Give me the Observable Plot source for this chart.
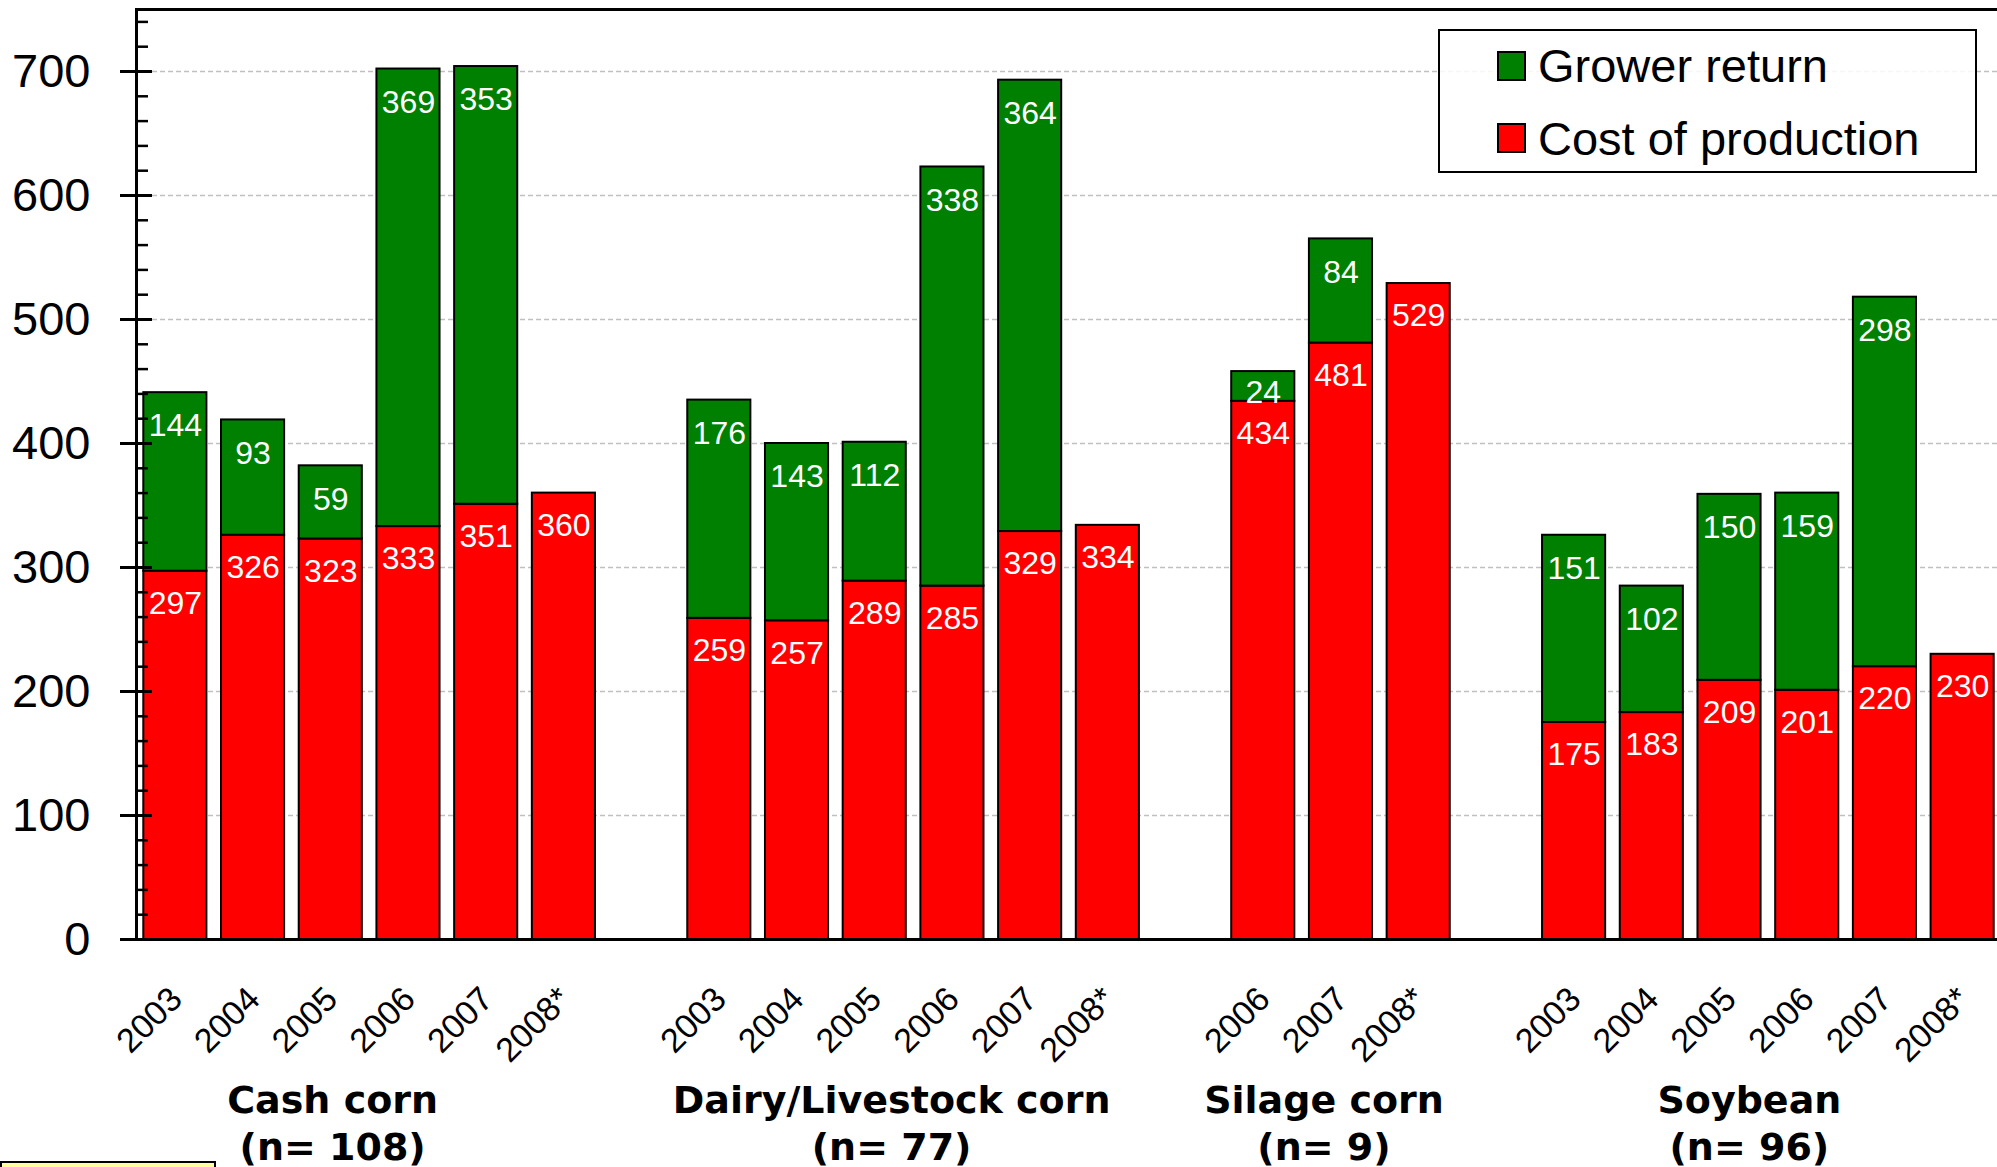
<!DOCTYPE html>
<html><head><meta charset="utf-8">
<script src="https://cdn.jsdelivr.net/npm/d3@7"></script>
<script src="https://cdn.jsdelivr.net/npm/@observablehq/plot@0.6"></script>
<style>
html,body{margin:0;padding:0;background:#fff;overflow:hidden}
#wrap{position:relative;width:1997px;height:1167px;overflow:hidden}
#legend{position:absolute;left:1438px;top:29px}
#note{position:absolute;left:0;top:1161px;width:212px;height:20px;background:#ffffa0;border:2px solid #000}
</style></head><body>
<div id="wrap"><div id="note"></div></div>
<script>
// ---- data ----
const groupNames = ["Cash corn", "Dairy/Livestock corn", "Silage corn", "Soybean"];
const groupN = [108, 77, 9, 96];

const cashYears = ["2003", "2004", "2005", "2006", "2007", "2008*"];
const cashCost = [297, 326, 323, 333, 351, 360];
const cashReturn = [144, 93, 59, 369, 353, null];

const dairyYears = ["2003", "2004", "2005", "2006", "2007", "2008*"];
const dairyCost = [259, 257, 289, 285, 329, 334];
const dairyReturn = [176, 143, 112, 338, 364, null];

const silageYears = ["2006", "2007", "2008*"];
const silageCost = [434, 481, 529];
const silageReturn = [24, 84, null];

const soyYears = ["2003", "2004", "2005", "2006", "2007", "2008*"];
const soyCost = [175, 183, 209, 201, 220, 230];
const soyReturn = [151, 102, 150, 159, 298, null];

const yTicks = [0, 100, 200, 300, 400, 500, 600, 700];
const seriesNames = ["Grower return", "Cost of production"];

// ---- layout / style ----
const W = 1997, H = 1167;
const mLeft = 136, mTop = 9, mBottom = 228, mRight = -4;
const yMax = 750;
const RED = "#ff0000", GREEN = "#008000";
const groupNudge = [-37, -22, -17, -19];

// ---- build table ----
const groupSrc = [
  [cashYears, cashCost, cashReturn],
  [dairyYears, dairyCost, dairyReturn],
  [silageYears, silageCost, silageReturn],
  [soyYears, soyCost, soyReturn]
];
const rows = [];
const domain = [];
groupSrc.forEach(([years, cost, ret], gi) => {
  years.forEach((yr, i) => {
    const key = gi + "|" + yr;
    domain.push(key);
    rows.push({group: groupNames[gi], gi, year: yr, key, cost: cost[i], ret: ret[i],
               total: ret[i] == null ? cost[i] : cost[i] + ret[i]});
  });
  if (gi < groupSrc.length - 1) domain.push("gap" + gi);
});
const retRows = rows.filter(d => d.ret != null);
const pxPerUnit = (H - mBottom - mTop) / yMax;
const retBig = retRows.filter(d => d.ret * pxPerUnit >= 45);
const retSmall = retRows.filter(d => d.ret * pxPerUnit < 45);
const step = (W - mLeft - mRight) / domain.length;

const minorTicks = d3.range(0, yMax + 1, 20);

const groupMarks = groupSrc.map(([years], gi) =>
  Plot.text([{key: gi + "|" + years[0], label: groupNames[gi] + "\n(n= " + groupN[gi] + ")"}], {
    x: "key", y: () => 0, text: "label",
    dx: (years.length - 1) / 2 * step + groupNudge[gi],
    dy: 140, lineAnchor: "top", lineHeight: 1.24,
    fontFamily: "DejaVu Sans", fontWeight: "bold", fontSize: 38, fill: "black"
  })
);

const chart = Plot.plot({
  width: W, height: H,
  marginLeft: mLeft, marginRight: mRight, marginTop: mTop, marginBottom: mBottom,
  style: {fontFamily: "Liberation Sans", background: "white", color: "black", overflow: "hidden"},
  x: {type: "band", domain, paddingInner: 0.188, paddingOuter: 0.094, round: false, axis: null},
  y: {domain: [0, yMax], label: null, axis: null},
  marks: [
    Plot.ruleY(yTicks.filter(v => v > 0), {stroke: "#c0c0c0", strokeWidth: 1.5, strokeDasharray: "5,3", insetLeft: 16}),
    Plot.barY(rows, {x: "key", y1: () => 0, y2: "cost", fill: RED, stroke: "black", strokeWidth: 2}),
    Plot.barY(retRows, {x: "key", y1: "cost", y2: "total", fill: GREEN, stroke: "black", strokeWidth: 2}),
    Plot.text(rows, {x: "key", y: "cost", text: d => String(d.cost), fill: "white", fontSize: 32, lineAnchor: "top", dy: 20}),
    Plot.text(retBig, {x: "key", y: "total", text: d => String(d.ret), fill: "white", fontSize: 32, lineAnchor: "top", dy: 21}),
    Plot.text(retSmall, {x: "key", y: "total", text: d => String(d.ret), fill: "white", fontSize: 32, lineAnchor: "top", dy: 9}),
    Plot.frame({stroke: "black", strokeWidth: 3}),
    Plot.axisY({ticks: minorTicks, tickSize: 12, dx: 12, tickFormat: () => "", stroke: "black", strokeWidth: 2.5, label: null}),
    Plot.axisY({ticks: yTicks, tickSize: 32, dx: 16, tickFormat: () => "", stroke: "black", strokeWidth: 3, label: null}),
    Plot.axisY({ticks: yTicks, tickSize: 0, tickPadding: 46, fontSize: 47, fill: "black", label: null}),
    Plot.text(rows, {x: "key", y: () => 0, text: "year", rotate: -45, textAnchor: "end", lineAnchor: "middle",
                     dy: 54, dx: 1, fontSize: 34, fill: "black"}),
    ...groupMarks
  ]
});
document.getElementById("wrap").prepend(chart);

// ---- legend (boxed, inside plot area) ----
const legendColors = [GREEN, RED];
const lg = d3.select("#wrap").append("svg").attr("id", "legend")
  .attr("width", 539).attr("height", 144);
lg.append("rect").attr("x", 1).attr("y", 1).attr("width", 537).attr("height", 142)
  .attr("fill", "white").attr("fill-opacity", 0.85).attr("stroke", "black").attr("stroke-width", 2);
seriesNames.forEach((name, i) => {
  lg.append("rect").attr("x", 60).attr("y", 23 + i * 72).attr("width", 27).attr("height", 28)
    .attr("fill", legendColors[i]).attr("stroke", "black").attr("stroke-width", 2);
  lg.append("text").attr("x", 100).attr("y", 53 + i * 73)
    .attr("font-family", "Liberation Sans").attr("font-size", 47).attr("fill", "black").text(name);
});
</script>
</body></html>
